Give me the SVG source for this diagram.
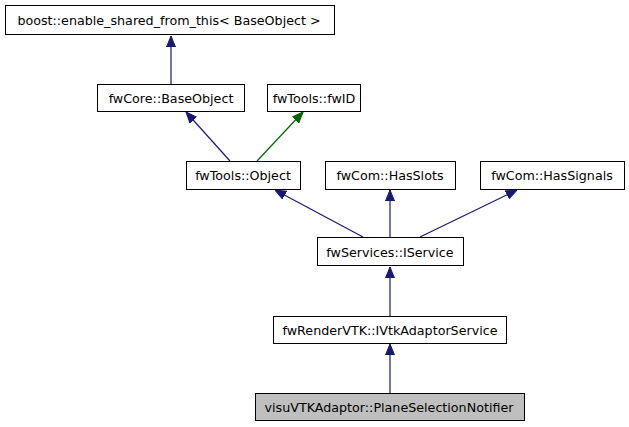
<svg xmlns="http://www.w3.org/2000/svg" width="629" height="427" viewBox="0 0 629 427">
<style>
.n rect{fill:#fff;stroke:#000;stroke-width:1}
.n.g rect{fill:#bfbfbf}
.n text{font-family:"DejaVu Sans",sans-serif;font-size:12.7px;text-anchor:middle;fill:#000}
.e{fill:none;stroke:#191970;stroke-width:1.2}
.e.gr{stroke:#006400}
</style>
<defs>
<marker id="ab" markerUnits="userSpaceOnUse" markerWidth="11" markerHeight="10" refX="11" refY="5" orient="auto"><path d="M0,0.5 L11,5 L0,9.5 z" fill="#191970" stroke="#191970"/></marker>
<marker id="ag" markerUnits="userSpaceOnUse" markerWidth="11" markerHeight="10" refX="11" refY="5" orient="auto"><path d="M0,0.5 L11,5 L0,9.5 z" fill="#006400" stroke="#006400"/></marker>
</defs>
<rect width="629" height="427" fill="#fff"/>
<g id="connectors">
<path class="e" d="M171,84 L171,36" marker-end="url(#ab)"/>
<path class="e" d="M230,161 L186,112" marker-end="url(#ab)"/>
<path class="e gr" d="M257,161 L303,112" marker-end="url(#ag)"/>
<path class="e" d="M363,237 L275,190" marker-end="url(#ab)"/>
<path class="e" d="M390,237 L390,190" marker-end="url(#ab)"/>
<path class="e" d="M420,237 L517,190" marker-end="url(#ab)"/>
<path class="e" d="M390,317 L390,267" marker-end="url(#ab)"/>
<path class="e" d="M390,393 L390,344" marker-end="url(#ab)"/>
</g>
<g id="boost" class="n"><rect x="5.5" y="5.5" width="329" height="29"/><text x="169" y="24.5">boost::enable_shared_from_this&lt; BaseObject &gt;</text></g>
<g id="BaseObject" class="n"><rect x="97.5" y="84.5" width="147" height="27"/><text x="171" y="102.5">fwCore::BaseObject</text></g>
<g id="fwID" class="n"><rect x="267.5" y="84.5" width="93" height="27"/><text x="314" y="102.5">fwTools::fwID</text></g>
<g id="Object" class="n"><rect x="186.5" y="161.5" width="114" height="28"/><text x="243" y="180">fwTools::Object</text></g>
<g id="HasSlots" class="n"><rect x="325.5" y="161.5" width="130" height="28"/><text x="390" y="180">fwCom::HasSlots</text></g>
<g id="HasSignals" class="n"><rect x="480.5" y="161.5" width="144" height="28"/><text x="552" y="180">fwCom::HasSignals</text></g>
<g id="IService" class="n"><rect x="317.5" y="237.5" width="146" height="28"/><text x="390" y="256.5">fwServices::IService</text></g>
<g id="IVtkAdaptorService" class="n"><rect x="273.5" y="316.5" width="233" height="27"/><text x="390" y="334.5">fwRenderVTK::IVtkAdaptorService</text></g>
<g id="PlaneSelectionNotifier" class="n g"><rect x="255.5" y="393.5" width="269" height="27"/><text x="389" y="411.5">visuVTKAdaptor::PlaneSelectionNotifier</text></g>
</svg>
